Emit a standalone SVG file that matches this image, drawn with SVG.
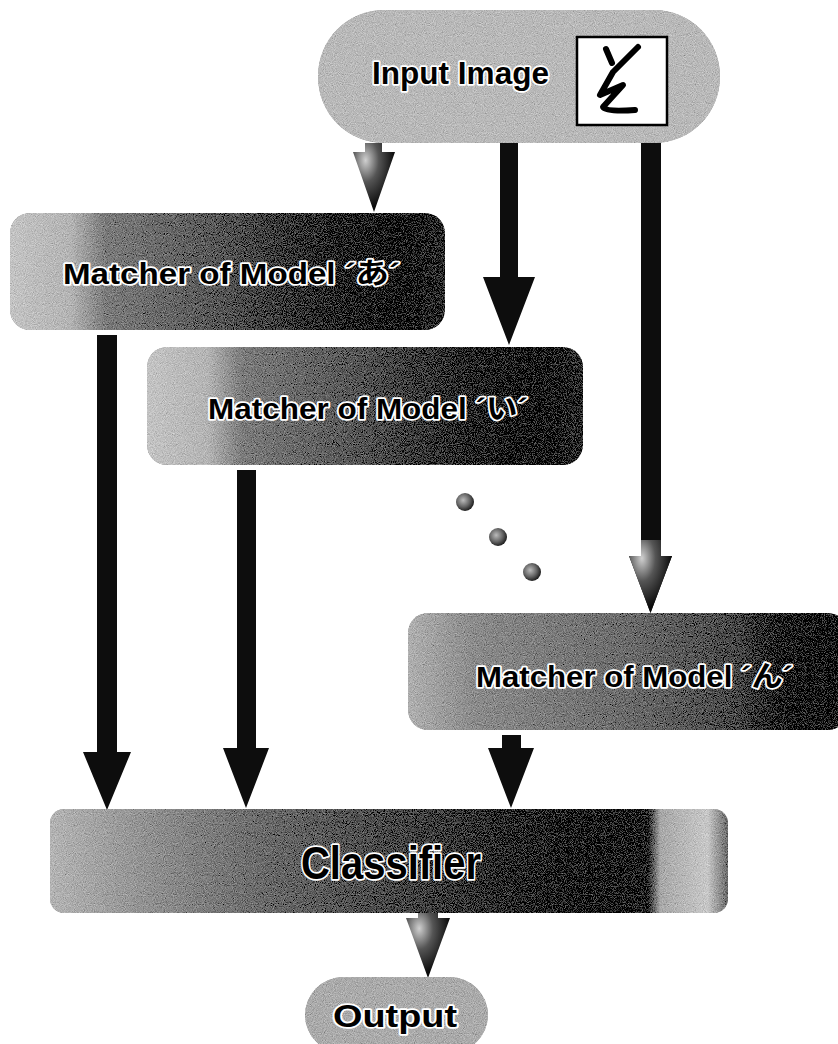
<svg xmlns="http://www.w3.org/2000/svg" width="838" height="1044" viewBox="0 0 838 1044">
<style>
.lbl{font-family:"Liberation Sans","Noto Sans CJK JP",sans-serif;font-weight:bold;fill:#000;stroke:#fff;stroke-width:3.5;paint-order:stroke;stroke-linejoin:round}
.arr{fill:#0d0d0d}
.sh{fill:url(#gArr)}
</style>
<defs>
<filter id="grain" x="0" y="0" width="100%" height="100%">
<feTurbulence type="fractalNoise" baseFrequency="1.1" numOctaves="1" seed="4" result="t"/>
<feColorMatrix in="t" type="matrix" values="0.33 0.33 0.33 0 0 0.33 0.33 0.33 0 0 0.33 0.33 0.33 0 0 0 0 0 0 1" result="g"/>
<feComposite in="SourceGraphic" in2="g" operator="arithmetic" k1="0" k2="1" k3="0.9" k4="-0.45" result="m"/>
<feComposite in="m" in2="SourceGraphic" operator="in"/>
</filter>
<linearGradient id="gA" x1="0" y1="0" x2="1" y2="0">
<stop offset="0" stop-color="#c4c4c4"/><stop offset="0.14" stop-color="#b4b4b4"/><stop offset="0.22" stop-color="#7c7c7c"/><stop offset="0.5" stop-color="#555"/><stop offset="0.75" stop-color="#252525"/><stop offset="0.9" stop-color="#0a0a0a"/><stop offset="1" stop-color="#2e2e2e"/>
</linearGradient>
<linearGradient id="gN" x1="0" y1="0" x2="1" y2="0">
<stop offset="0" stop-color="#b0b0b0"/><stop offset="0.15" stop-color="#8c8c8c"/><stop offset="0.5" stop-color="#6c6c6c"/><stop offset="0.75" stop-color="#4a4a4a"/><stop offset="0.86" stop-color="#151515"/><stop offset="1" stop-color="#000"/>
</linearGradient>
<linearGradient id="gC" x1="0" y1="0" x2="1" y2="0">
<stop offset="0" stop-color="#b4b4b4"/><stop offset="0.1" stop-color="#9c9c9c"/><stop offset="0.3" stop-color="#6e6e6e"/><stop offset="0.6" stop-color="#3a3a3a"/><stop offset="0.8" stop-color="#141414"/><stop offset="0.88" stop-color="#1a1a1a"/><stop offset="0.9" stop-color="#a8a8a8"/><stop offset="0.97" stop-color="#c8c8c8"/><stop offset="1" stop-color="#6a6a6a"/>
</linearGradient>
<radialGradient id="gArr" cx="0.3" cy="0.25" r="0.7">
<stop offset="0" stop-color="#d0d0d0"/><stop offset="0.45" stop-color="#555"/><stop offset="1" stop-color="#0a0a0a"/>
</radialGradient>
<radialGradient id="gDot" cx="0.4" cy="0.4" r="0.6">
<stop offset="0" stop-color="#bbb"/><stop offset="0.6" stop-color="#666"/><stop offset="1" stop-color="#222"/>
</radialGradient>
</defs>

<g id="connectors">
<path class="sh" d="M365,143 H382 V152 H395 L374,212 L353,152 H365 Z"/>
<path class="arr" d="M500,143 H518 V277 H535 L509,345 L483,277 H500 Z"/>
<path class="arr" d="M641,143 H661 V556 H672 L650.5,613 L629,556 H641 Z"/>
<path class="sh" d="M641,540 H661 V556 H672 L650.5,613 L629,556 H641 Z"/>
<path class="arr" d="M97,335 H117 V752 H131 L107,810 L83,752 H97 Z"/>
<path class="arr" d="M237,470 H256 V748 H269 L246,808 L223,748 H237 Z"/>
<path class="arr" d="M502,735 H521 V748 H534 L511,808 L488,748 H502 Z"/>
<path class="sh" d="M418,912 H438 V918 H450 L428,978 L406,918 H418 Z"/>
</g>

<g id="input">
<rect x="318" y="10" width="402" height="133" rx="66" ry="66" fill="#b9b9b9" filter="url(#grain)"/>
<text class="lbl" x="372" y="84" font-size="32" textLength="177" lengthAdjust="spacingAndGlyphs">Input Image</text>
<rect x="577" y="37" width="90" height="88" fill="#fff" stroke="#000" stroke-width="2.5"/>
<path d="M606,49 L612,63 M638,47 L613,72 L600,95 L623,85 L603,107 Q606,112 635,110" fill="none" stroke="#000" stroke-width="6" stroke-linecap="round" stroke-linejoin="round"/>
</g>

<g id="matcher-a">
<rect x="10" y="213" width="435" height="117" rx="20" fill="url(#gA)" filter="url(#grain)"/>
<text class="lbl" x="63" y="284" font-size="29" textLength="337" lengthAdjust="spacingAndGlyphs">Matcher of Model ´あ´</text>
</g>

<g id="matcher-i">
<rect x="147" y="347" width="436" height="118" rx="20" fill="url(#gA)" filter="url(#grain)"/>
<text class="lbl" x="208" y="419" font-size="29" textLength="320" lengthAdjust="spacingAndGlyphs">Matcher of Model ´い´</text>
</g>

<g id="dots">
<circle cx="465" cy="502" r="9" fill="url(#gDot)"/>
<circle cx="498" cy="537" r="9" fill="url(#gDot)"/>
<circle cx="532" cy="572" r="9" fill="url(#gDot)"/>
</g>

<g id="matcher-n">
<rect x="408" y="613" width="440" height="117" rx="20" fill="url(#gN)" filter="url(#grain)"/>
<text class="lbl" x="476" y="687" font-size="29" textLength="317" lengthAdjust="spacingAndGlyphs">Matcher of Model ´ん´</text>
</g>

<g id="classifier">
<rect x="50" y="809" width="678" height="104" rx="14" fill="url(#gC)" filter="url(#grain)"/>
<text class="lbl" x="301" y="879" font-size="46" textLength="180" lengthAdjust="spacingAndGlyphs">Classifier</text>
</g>

<g id="output">
<rect x="305" y="977" width="183" height="76" rx="38" fill="#ababab" filter="url(#grain)"/>
<text class="lbl" x="333" y="1027" font-size="32" textLength="124" lengthAdjust="spacingAndGlyphs">Output</text>
</g>
</svg>
